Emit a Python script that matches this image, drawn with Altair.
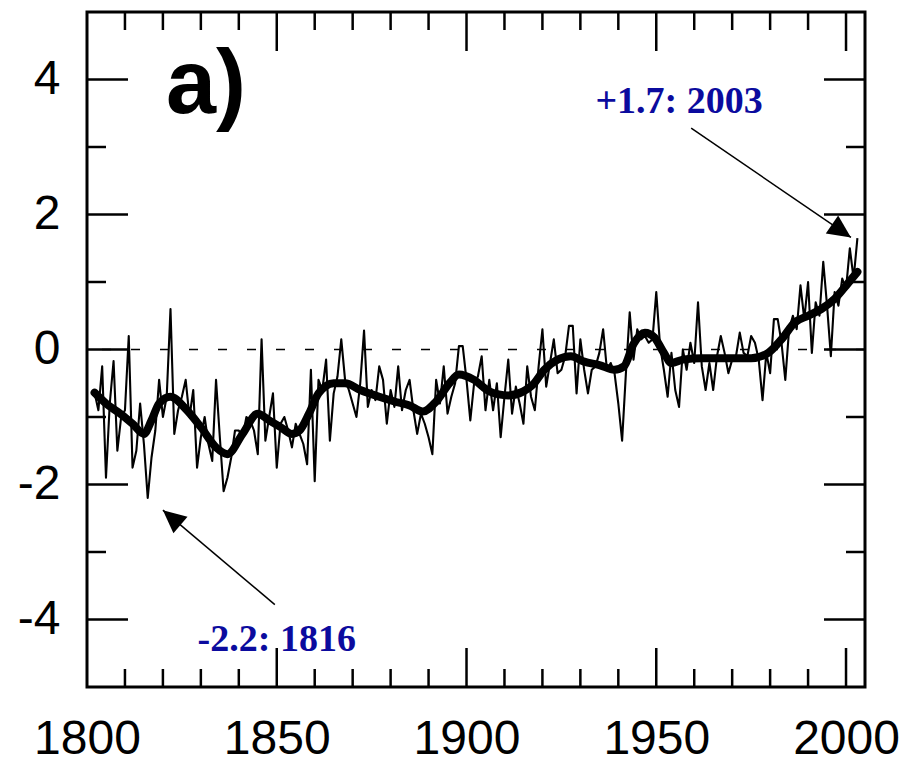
import math
import altair as alt
import pandas as pd

# ---------------- data ----------------
annual_years = list(range(1802, 2004))
annual_vals = [
    -0.64, -0.9, -0.25, -1.9, -0.8, -0.17, -1.5, -1.0,                 # 1802-1809
    -0.9, 0.2, -1.75, -1.5, -0.8, -1.4, -2.2, -1.6, -1.2, -0.45,        # 1810s
    -1.0, -0.7, 0.6, -1.25, -0.9, -0.7, -0.45, -1.0, -0.6, -1.75,       # 1820s
    -1.3, -1.0, -1.4, -1.65, -0.45, -1.3, -2.1, -1.9, -1.6, -1.2,       # 1830s
    -1.2, -1.3, -1.0, -1.05, -1.2, -1.55, 0.15, -1.35, -1.0, -0.65,     # 1840s
    -1.75, -1.1, -1.0, -1.2, -1.45, -1.1, -1.25, -1.4, -1.7, -0.3,      # 1850s
    -1.95, -0.45, -0.6, -0.15, -1.35, -0.65, -0.4, 0.15, -0.45, -0.6,   # 1860s
    -0.8, -1.0, -0.5, 0.28, -0.85, -0.6, -0.75, -0.25, -0.45, -1.1,     # 1870s
    -0.6, -0.85, -0.25, -0.9, -0.6, -0.45, -0.9, -1.25, -0.95, -1.1,    # 1880s
    -1.3, -1.55, -0.45, -0.8, -0.25, -0.95, -0.7, -0.5, 0.05, 0.05,     # 1890s
    -0.45, -1.05, -0.5, -0.4, -0.1, -0.9, -0.45, -0.9, -0.5, -1.3,      # 1900s
    -0.7, -0.15, -0.95, -0.55, -0.8, -1.1, -0.25, -0.7, -0.9, -0.25,    # 1910s
    0.3, -0.55, -0.2, 0.15, -0.35, -0.3, -0.1, 0.35, 0.35, -0.65,       # 1920s
    0.15, -0.3, -0.65, -0.3, -0.25, -0.05, 0.3, -0.3, -0.2, -0.35,      # 1930s
    -0.8, -1.35, -0.35, 0.55, -0.15, 0.3, 0.15, 0.2, 0.1, 0.15,         # 1940s
    0.85, 0.05, -0.3, -0.7, -0.05, -0.6, -0.85, 0.0, -0.3, 0.1,         # 1950s
    -0.2, 0.7, -0.25, -0.6, -0.2, -0.6, -0.1, 0.2, -0.05, -0.35,        # 1960s
    -0.15, -0.1, 0.25, -0.05, -0.1, 0.2, 0.1, -0.15, -0.75, -0.05,      # 1970s
    -0.35, 0.45, 0.45, 0.1, -0.45, 0.3, 0.5, 0.3, 0.95, 0.45,           # 1980s
    1.0, -0.05, 0.7, 0.5, 1.3, 0.65, -0.1, 0.85, 0.65, 1.05,            # 1990s
    0.9, 1.5, 1.05, 1.65,                                               # 2000-2003
]

smooth_years = [1802, 1805, 1809, 1812, 1815, 1817, 1819, 1822, 1826, 1830,
                1834, 1837, 1841, 1845, 1848, 1851, 1854, 1856, 1858.5, 1861,
                1865, 1868, 1872, 1877, 1881, 1885, 1888.5, 1892, 1895.5, 1898,
                1902, 1906, 1911, 1915, 1917.5, 1920.5, 1924, 1927.5, 1931, 1935,
                1939, 1941.5, 1944, 1947, 1949.5, 1952, 1954, 1957, 1962, 1967,
                1971, 1975, 1979.5, 1983, 1986.5, 1990, 1993.5, 1997, 2000.5, 2003]
smooth_vals = [-0.64, -0.8, -0.96, -1.1, -1.25, -1.05, -0.8, -0.7, -0.88, -1.15,
               -1.45, -1.55, -1.25, -0.95, -1.05, -1.15, -1.25, -1.2, -0.95, -0.65,
               -0.5, -0.5, -0.6, -0.7, -0.77, -0.83, -0.92, -0.77, -0.5, -0.37,
               -0.45, -0.62, -0.68, -0.62, -0.52, -0.3, -0.15, -0.1, -0.18, -0.23,
               -0.3, -0.25, 0.08, 0.25, 0.18, -0.05, -0.2, -0.15, -0.13, -0.13,
               -0.13, -0.13, -0.05, 0.15, 0.4, 0.5, 0.6, 0.75, 0.98, 1.15]

x_label_values = [1800, 1850, 1900, 1950, 2000]
y_label_values = [-4, -2, 0, 2, 4]
x_major_ticks = [1850, 1900, 1950, 2000]
x_minor_ticks = [1810, 1820, 1830, 1840, 1860, 1870, 1880, 1890,
                 1910, 1920, 1930, 1940, 1960, 1970, 1980, 1990]
y_major_ticks = [-4, -2, 0, 2, 4]
y_minor_ticks = [-3, -1, 1, 3]

note_text = ["+1.7: 2003", "-2.2: 1816"]
note_x = [1956.0, 1850.0]
note_y = [3.51, -4.47]

arrow_x_start = [1959.2, 1849.5]
arrow_y_start = [3.28, -3.78]
arrow_x_tip = [2001.3, 1820.0]
arrow_y_tip = [1.66, -2.38]

# ---------------- layout ----------------
W, H = 778, 675
X_DOM = [1800, 2005]
Y_DOM = [-5, 5]
px_per_year = W / (X_DOM[1] - X_DOM[0])
px_per_unit = H / (Y_DOM[1] - Y_DOM[0])

angles = []
for xs, ys, xt, yt in zip(arrow_x_start, arrow_y_start, arrow_x_tip, arrow_y_tip):
    dx = (xt - xs) * px_per_year
    dy = -(yt - ys) * px_per_unit
    angles.append((math.degrees(math.atan2(dx, -dy)) + 360) % 360)

x_scale = alt.Scale(domain=X_DOM, nice=False, zero=False)
y_scale = alt.Scale(domain=Y_DOM, nice=False, zero=False)

annual = pd.DataFrame({"year": annual_years, "anom": annual_vals})
smooth = pd.DataFrame({"year": smooth_years, "anom": smooth_vals})

thin = alt.Chart(annual).mark_line(color="black", strokeWidth=2.1,
                                   strokeJoin="round").encode(
    x=alt.X("year:Q", scale=x_scale, title="",
            axis=alt.Axis(values=x_label_values, format="d", labelFontSize=48,
                          labelFont="Liberation Sans", labelColor="black",
                          labelPadding=28, domain=False, ticks=False, grid=False,
                          labelFlush=False, labelOverlap=False, labelBound=False)),
    y=alt.Y("anom:Q", scale=y_scale, title="",
            axis=alt.Axis(values=y_label_values, labelExpr="'' + datum.value",
                          labelFontSize=48, labelFont="Liberation Sans",
                          labelColor="black", labelPadding=27, domain=False,
                          ticks=False, grid=False, labelOverlap=False,
                          labelBound=False, labelFlush=False)),
)

thick = alt.Chart(smooth).mark_line(color="black", strokeWidth=8,
                                    interpolate="monotone", strokeCap="round",
                                    strokeJoin="round").encode(
    x="year:Q", y="anom:Q")

zero = alt.Chart(pd.DataFrame({"anom": [0]})).mark_rule(
    color="black", strokeWidth=1.5, strokeDash=[9, 20]).encode(y="anom:Q")

TW = 2.5
MAJ, MIN = 41, 19


def yticks(vals, length):
    d = pd.DataFrame({"anom": vals})
    left = alt.Chart(d).mark_rule(color="black", strokeWidth=TW).encode(
        y="anom:Q", x=alt.value(0), x2=alt.value(length))
    right = alt.Chart(d).mark_rule(color="black", strokeWidth=TW).encode(
        y="anom:Q", x=alt.value(W - length), x2=alt.value(W))
    return [left, right]


def xticks(vals, length):
    d = pd.DataFrame({"year": vals})
    bottom = alt.Chart(d).mark_rule(color="black", strokeWidth=TW).encode(
        x="year:Q", y=alt.value(H), y2=alt.value(H - length))
    top = alt.Chart(d).mark_rule(color="black", strokeWidth=TW).encode(
        x="year:Q", y=alt.value(0), y2=alt.value(length))
    return [bottom, top]


ticks = (yticks(y_major_ticks, MAJ) + yticks(y_minor_ticks, MIN)
         + xticks(x_major_ticks, MAJ - 2) + xticks(x_minor_ticks, MIN - 1))

notes_df = pd.DataFrame({"year": note_x, "anom": note_y, "t": note_text})
notes = alt.Chart(notes_df).mark_text(
    font="Liberation Serif", fontWeight="bold", fontSize=38, color="#0b0b9e",
    align="center", baseline="alphabetic").encode(x="year:Q", y="anom:Q", text="t:N")

panel = alt.Chart(pd.DataFrame({"year": [1820.8], "anom": [3.51], "t": ["a)"]})).mark_text(
    font="Liberation Sans", fontWeight="bold", fontSize=90, color="black",
    align="left", baseline="alphabetic").encode(x="year:Q", y="anom:Q", text="t:N")

arrows_df = pd.DataFrame({"year": arrow_x_start, "anom": arrow_y_start,
                          "year2": arrow_x_tip, "anom2": arrow_y_tip,
                          "ang": angles})
arrow_lines = alt.Chart(arrows_df).mark_rule(color="black", strokeWidth=1.5).encode(
    x="year:Q", y="anom:Q", x2="year2:Q", y2="anom2:Q")
arrow_heads = alt.Chart(arrows_df).mark_point(
    shape="M0,0 L-0.95,2 L0.95,2 Z", filled=True, color="black", opacity=1,
    size=529, strokeWidth=0).encode(
    x="year2:Q", y="anom2:Q", angle=alt.Angle("ang:Q", scale=None))

chart = alt.layer(thin, zero, thick, *ticks, notes, panel, arrow_lines, arrow_heads).properties(
    width=W, height=H,
    autosize=alt.AutoSizeParams(type="none"),
    padding={"left": 87, "top": 12, "right": 47, "bottom": 76},
    background="white",
).configure_view(stroke="black", strokeWidth=3)

chart.save("out.html", embed_options={"renderer": "svg", "actions": False})
